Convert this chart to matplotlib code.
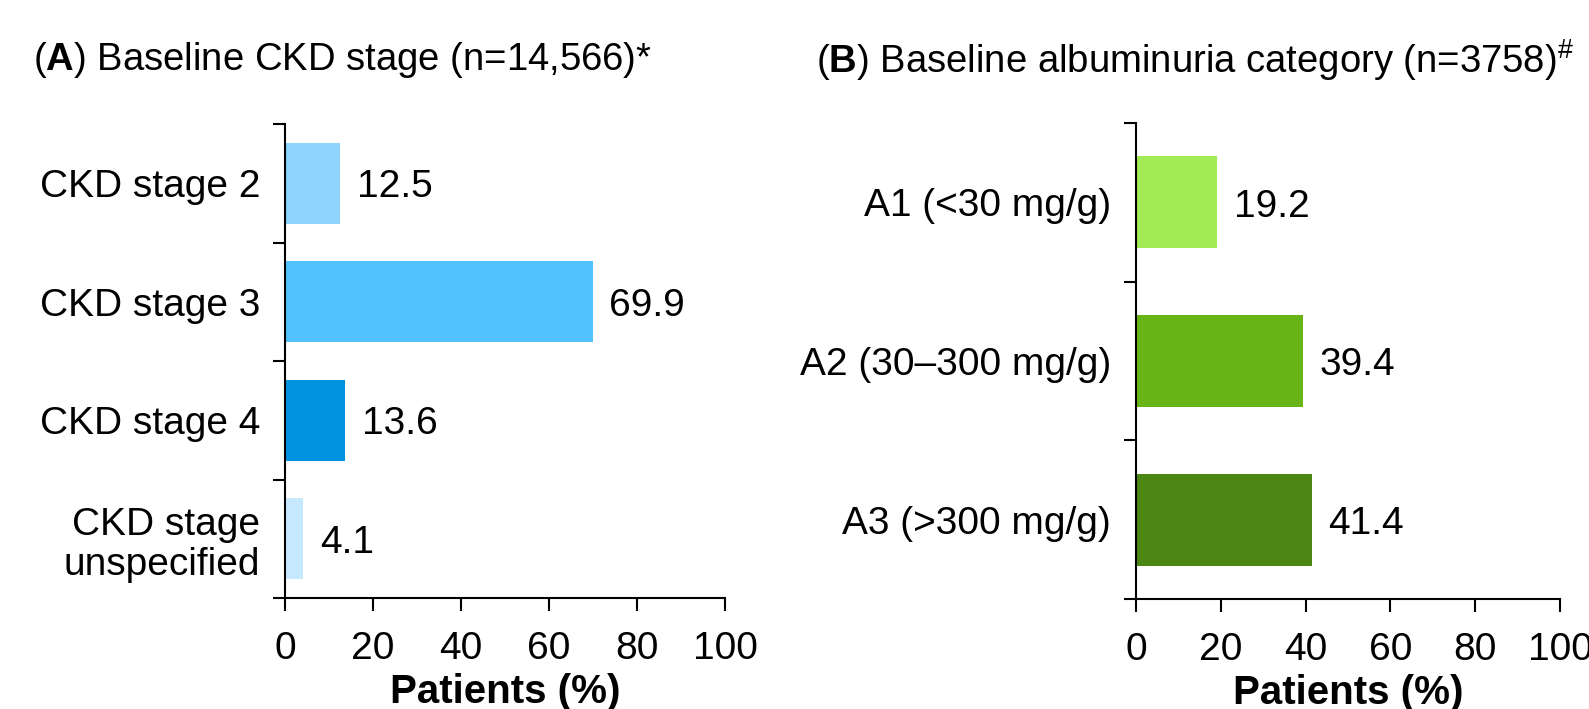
import matplotlib
matplotlib.use("Agg")
import matplotlib.pyplot as plt
from matplotlib import font_manager

plt.rcParams['font.family'] = ['Liberation Sans', 'DejaVu Sans']
plt.rcParams['mathtext.fontset'] = 'custom'
plt.rcParams['mathtext.rm'] = 'Liberation Sans'
plt.rcParams['mathtext.bf'] = 'Liberation Sans:bold'

# panel A data
stage_labels = ["CKD stage 2", "CKD stage 3", "CKD stage 4", "CKD stage\nunspecified"]
stage_values = [12.5, 69.9, 13.6, 4.1]
stage_colors = ["#8DD5FF", "#52C2FF", "#0092DF", "#C6E9FF"]

# panel B data
alb_labels = ["A1 (<30 mg/g)", "A2 (30\u2013300 mg/g)", "A3 (>300 mg/g)"]
alb_values = [19.2, 39.4, 41.4]
alb_colors = ["#A3EB55", "#67B516", "#4B8712"]

x_ticks = [0, 20, 40, 60, 80, 100]

# titles are set in a condensed face in the original
names = {f.name for f in font_manager.fontManager.ttflist}
if "Liberation Sans Narrow" in names:
    title_family, title_bf, title_size = "Liberation Sans Narrow", "Liberation Sans Narrow:bold", 31
else:
    title_family, title_bf, title_size = "Liberation Sans", "Liberation Sans:bold", 27.5

W, H = 1589, 709
fig = plt.figure(figsize=(W / 100, H / 100), dpi=100)

ax_a = fig.add_axes([285 / W, 1 - 598 / H, 440 / W, 474 / H])
ax_b = fig.add_axes([1136 / W, 1 - 599 / H, 424 / W, 476 / H])


def draw_panel(ax, labels, values, colors, bar_h):
    n = len(labels)
    pos = list(range(n))
    ax.barh(pos, values, height=bar_h, color=colors)
    for p, v in zip(pos, values):
        ax.annotate(f"{v:.1f}", (v, p), xytext=(12, -3), textcoords="offset points",
                    va="center", ha="left", fontsize=28)
    ax.set_ylim(n - 0.5, -0.5)
    ax.set_xlim(0, 100)
    ax.set_xticks(x_ticks)
    ax.set_xticklabels([str(t) for t in x_ticks], fontsize=28)
    ax.set_yticks(pos)
    ax.set_yticklabels(labels, fontsize=28, linespacing=1.15)
    ax.set_yticks([i - 0.5 for i in range(n + 1)], minor=True)
    ax.tick_params(axis="y", which="major", length=0, pad=18)
    ax.tick_params(axis="y", which="minor", length=8.6, width=1.5, direction="out")
    ax.tick_params(axis="x", length=9, width=1.5, pad=15)
    for s in ["top", "right"]:
        ax.spines[s].set_visible(False)
    for s in ["left", "bottom"]:
        ax.spines[s].set_linewidth(1.5)
    ax.set_xlabel("Patients (%)", fontsize=29, fontweight="bold", labelpad=4)


draw_panel(ax_a, stage_labels, stage_values, stage_colors, 0.68)
draw_panel(ax_b, alb_labels, alb_values, alb_colors, 0.58)

plt.rcParams['mathtext.rm'] = title_family
plt.rcParams['mathtext.bf'] = title_bf
fig.text(33 / W, 1 - 60 / H, r"($\mathbf{A}$) Baseline CKD stage (n=14,566)*",
         fontsize=title_size, family=title_family, va="center", ha="left")
fig.text(816 / W, 1 - 60 / H, r"($\mathbf{B}$) Baseline albuminuria category (n=3758)$^{\#}$",
         fontsize=title_size, family=title_family, va="center", ha="left")

fig.savefig("out.png", dpi=100)
